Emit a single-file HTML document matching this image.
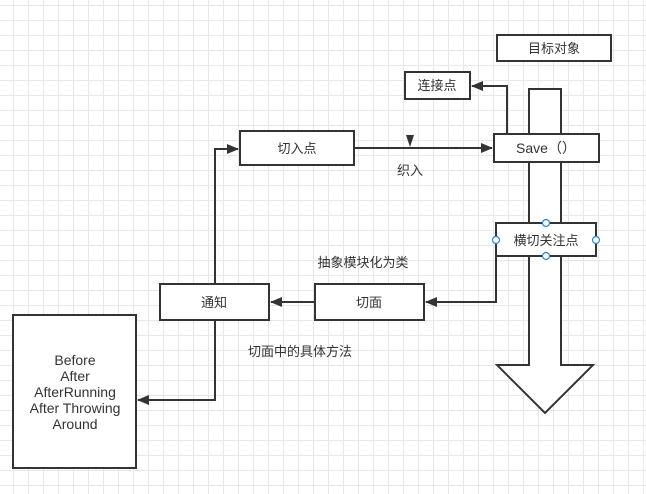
<!DOCTYPE html>
<html><head><meta charset="utf-8"><style>
html,body{margin:0;padding:0;}
body{width:646px;height:494px;background:#fff;overflow:hidden;position:relative;
background-image:linear-gradient(to right,#e8e8e8 1px,transparent 1px),linear-gradient(to bottom,#e8e8e8 1px,transparent 1px);
background-size:15px 15px;background-position:13px 5px;}
svg{position:absolute;left:0;top:0;}
text{font-family:"Liberation Sans","Noto Sans CJK SC",sans-serif;font-size:13px;fill:#333;text-anchor:middle;}
text.e{font-size:14px;}
</style></head><body>
<svg width="646" height="494" viewBox="0 0 646 494">
<defs><marker id="a" markerWidth="12" markerHeight="10" refX="11" refY="5" orient="auto" markerUnits="userSpaceOnUse"><path d="M0,0 L12,5 L0,10 Z" fill="#333"/></marker></defs>
<g stroke="#333" stroke-width="2" fill="#fff">
<path d="M529,89 H561 V365 H593 L545,413 L497,365 H529 Z"/>
<rect x="497" y="35" width="114" height="26"/>
<rect x="405" y="72" width="65" height="27"/>
<rect x="494" y="134" width="105" height="28"/>
<rect x="496" y="223" width="100" height="33"/>
<rect x="240" y="131" width="114" height="34"/>
<rect x="160" y="284" width="109" height="36"/>
<rect x="315" y="284" width="109" height="36"/>
<rect x="13" y="315" width="123" height="153"/>
</g>
<g stroke="#333" stroke-width="2" fill="none">
<path d="M354,148 H492" marker-end="url(#a)"/>
<path d="M507,134 V86 H472" marker-end="url(#a)"/>
<path d="M496,256 V302 H426" marker-end="url(#a)"/>
<path d="M315,302 H271" marker-end="url(#a)"/>
<path d="M215,284 V149 H238" marker-end="url(#a)"/>
<path d="M215,320 V400 H138" marker-end="url(#a)"/>
</g>
<path d="M406,135 L414,135 L410,147 Z" fill="#333"/>
<g fill="#fff" stroke="#1e88e5" stroke-width="1.2">
<circle cx="546" cy="223" r="3.5"/><circle cx="546" cy="256" r="3.5"/>
<circle cx="496" cy="240" r="3.5"/><circle cx="596" cy="240" r="3.5"/>
</g>
<text x="554" y="53">目标对象</text>
<text x="437" y="90">连接点</text>
<text x="546" y="153" class="e">Save（）</text>
<text x="546" y="245">横切关注点</text>
<text x="297" y="153">切入点</text>
<text x="214" y="307">通知</text>
<text x="369" y="307">切面</text>
<text x="410" y="175">织入</text>
<text x="363" y="267">抽象模块化为类</text>
<text x="300" y="356">切面中的具体方法</text>
<text x="75" y="365" class="e">Before</text>
<text x="75" y="381" class="e">After</text>
<text x="75" y="397" class="e">AfterRunning</text>
<text x="75" y="413" class="e">After Throwing</text>
<text x="75" y="429" class="e">Around</text>
</svg>
</body></html>
